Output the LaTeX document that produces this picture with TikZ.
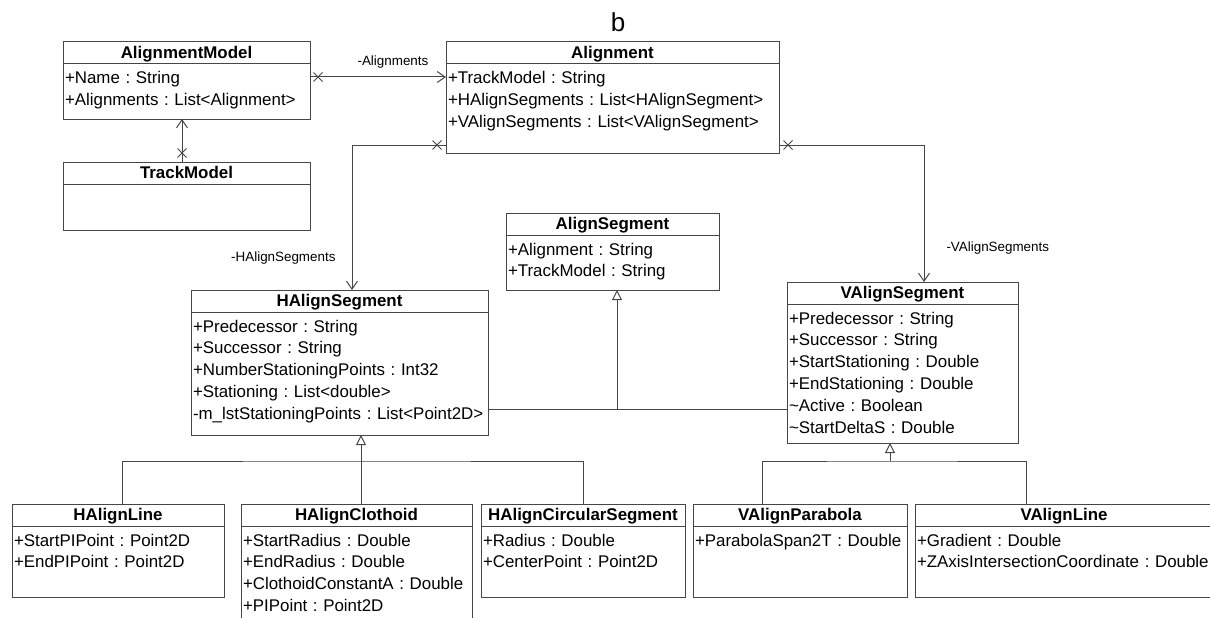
\documentclass[tikz,border=0pt]{standalone}
\usepackage{fontspec}
\setmainfont{Liberation Sans}
\usetikzlibrary{arrows.meta, positioning, shapes.misc}
\definecolor{umlgray}{RGB}{70,70,70}
\frenchspacing
\hyphenpenalty=10000

\begin{document}
\begin{tikzpicture}[
    x=1pt, y=-1pt,
    node distance=0pt,
    class/.style={rectangle, draw=umlgray, line width=1pt, outer sep=0pt, inner sep=0pt,
                  minimum height=22pt, text height=15pt, text depth=4pt,
                  font=\fontsize{16.9}{21.8}\selectfont\bfseries},
    attrs/.style={rectangle, draw=umlgray, line width=1pt, outer sep=0pt,
                  inner xsep=2pt, inner ysep=2pt, text height=18pt, align=left,
                  font=\fontsize{16.9}{21.8}\selectfont\frenchspacing},
    conn/.style={draw=umlgray, line width=1pt},
    assoc/.style={conn, -{Straight Barb[length=8pt, width=11pt]}},
    gen/.style={conn, -{Triangle[open, fill=white, length=10pt, width=10pt]}},
    lbl/.style={font=\fontsize{13.4}{16}\selectfont, inner sep=0pt},
    xmark/.style={cross out, draw=umlgray, line width=1pt, minimum size=8pt, inner sep=0pt},
]
    \path[use as bounding box, fill=white] (0,0) rectangle (1210,618);

    \node[font=\fontsize{26}{30}\selectfont, inner sep=0pt, anchor=base] (tag) at (618,32) {b};

    % top row
    \node[class, minimum width=247pt, anchor=north west] (am) at (63,42) {AlignmentModel};
    \node[attrs, below=of am, text width=243pt, text depth=33pt] (amb) {+Name : String\\+Alignments : List<Alignment>};
    \node[class, minimum width=247pt, anchor=north west] (tm) at (63,162) {TrackModel};
    \node[attrs, below=of tm, text width=243pt, text depth=24pt] (tmb) {};
    \node[class, minimum width=333pt, anchor=north west] (al) at (446,42) {Alignment};
    \node[attrs, below=of al, text width=329pt, text depth=67pt] (alb) {+TrackModel : String\\+HAlignSegments : List<HAlignSegment>\\+VAlignSegments : List<VAlignSegment>};

    % segments
    \node[class, minimum width=213pt, anchor=north west] (as) at (506,213) {AlignSegment};
    \node[attrs, below=of as, text width=209pt, text depth=33pt] (asb) {+Alignment : String\\+TrackModel : String};
    \node[class, minimum width=297pt, anchor=north west] (hs) at (191,290) {HAlignSegment};
    \node[attrs, below=of hs, text width=293pt, text depth=101pt] (hsb) {+Predecessor : String\\+Successor : String\\+NumberStationingPoints : Int32\\+Stationing : List<double>\\-m\_lstStationingPoints : List<Point2D>};
    \node[class, minimum width=231pt, anchor=north west] (vs) at (787,282) {VAlignSegment};
    \node[attrs, below=of vs, text width=227pt, text depth=117pt] (vsb) {+Predecessor : String\\+Successor : String\\+StartStationing : Double\\+EndStationing : Double\\\textasciitilde Active : Boolean\\\textasciitilde StartDeltaS : Double};

    % bottom row
    \node[class, minimum width=212pt, anchor=north west] (hl) at (12,504) {HAlignLine};
    \node[attrs, below=of hl, text width=208pt, text depth=49pt] (hlb) {+StartPIPoint : Point2D\\+EndPIPoint : Point2D};
    \node[class, minimum width=231pt, anchor=north west] (hc) at (241,504) {HAlignClothoid};
    \node[attrs, below=of hc, text width=227pt, text depth=95pt] (hcb) {+StartRadius : Double\\+EndRadius : Double\\+ClothoidConstantA : Double\\+PIPoint : Point2D};
    \node[class, minimum width=204pt, anchor=north west] (hcs) at (481,504) {HAlignCircularSegment};
    \node[attrs, below=of hcs, text width=200pt, text depth=49pt] (hcsb) {+Radius : Double\\+CenterPoint : Point2D};
    \node[class, minimum width=214pt, anchor=north west] (vp) at (693,504) {VAlignParabola};
    \node[attrs, below=of vp, text width=210pt, text depth=49pt] (vpb) {+ParabolaSpan2T : Double};
    \node[class, minimum width=298pt, anchor=north west] (vl) at (915,504) {VAlignLine};
    \node[attrs, below=of vl, text width=294pt, text depth=49pt] (vlb) {+Gradient : Double\\+ZAxisIntersectionCoordinate : Double};

    % associations
    \draw[assoc] ([yshift=-13pt]amb.north east) -- node[lbl, pos=0.61, above=8pt] (lal) {-Alignments} ([yshift=-13pt]alb.north west);
    \node[xmark] (xal) at ([xshift=8pt, yshift=-13pt]amb.north east) {};
    \draw[assoc] ([xshift=-4.5pt]tm.north) -- ([xshift=-4.5pt]amb.south);
    \node[xmark] (xtm) at ([xshift=-4.5pt, yshift=9pt]tm.north) {};
    \draw[assoc] ([yshift=8pt]alb.south west) -| node[lbl, pos=0.89, left=16pt] (lhs) {-HAlignSegments} ([xshift=12.5pt]hs.north);
    \node[xmark] (xhs) at ([xshift=-9pt, yshift=8pt]alb.south west) {};
    \draw[assoc] ([yshift=8pt]alb.south east) -| node[lbl, pos=0.875, right=22pt] (lvs) {-VAlignSegments} ([xshift=21.5pt]vs.north);
    \node[xmark] (xvs) at ([xshift=9pt, yshift=8pt]alb.south east) {};

    % generalizations
    \coordinate (gj) at (617,409);
    \draw[conn] (hsb.east |- gj) -- (vsb.west |- gj);
    \draw[gen] (gj) -- (gj |- asb.south);
    \coordinate (hj) at (361,461);
    \draw[gen] (hj |- hc.north) -- (hj |- hsb.south);
    \draw[conn] ([xshift=4pt]hl.north) |- (hj) -| (hcs.north);
    \coordinate (vj) at (890,461);
    \draw[gen] (vj) -- (vj |- vsb.south);
    \draw[conn] ([xshift=-38pt]vp.north) |- (vj) -| ([xshift=-38pt]vl.north);
\end{tikzpicture}
\end{document}
